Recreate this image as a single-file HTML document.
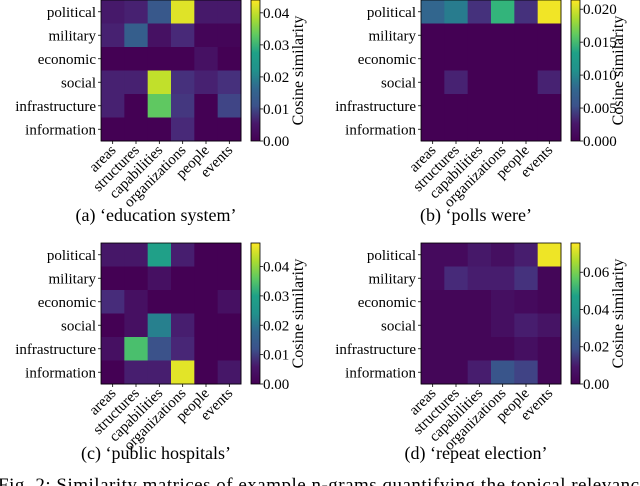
<!DOCTYPE html>
<html><head><meta charset="utf-8"><style>
html,body{margin:0;padding:0;background:#fff;}
svg{display:block;font-family:"Liberation Serif",serif;}
</style></head><body>
<svg id="fig" width="640" height="486" viewBox="0 0 640 486" xmlns="http://www.w3.org/2000/svg">
<defs>
<linearGradient id="vir" x1="0" y1="1" x2="0" y2="0">
<stop offset="0" stop-color="#440154"/><stop offset="0.125" stop-color="#48186a"/><stop offset="0.25" stop-color="#3b528b"/><stop offset="0.375" stop-color="#31688e"/><stop offset="0.5" stop-color="#21918c"/><stop offset="0.625" stop-color="#1fa187"/><stop offset="0.75" stop-color="#5ec962"/><stop offset="0.875" stop-color="#addc30"/><stop offset="1" stop-color="#fde725"/>
</linearGradient>
</defs>
</svg>
<script>
const rowLabels=["political","military","economic","social","infrastructure","information"];
const colLabels=["areas","structures","capabilities","organizations","people","events"];
const valuesA=[[.003,.004,.012,.042,.003,.003],[.004,.013,.002,.005,.0005,.0005],[0,0,0,0,.002,0],[.004,.004,.040,.006,.004,.006],[.004,0,.033,.007,0,.009],[0,0,0,.005,0,0]];
const valuesB=[[.007,.009,.003,.014,.003,.021],[0,0,0,0,0,0],[0,0,0,0,0,0],[0,.002,0,0,0,.002],[0,0,0,0,0,0],[0,0,0,0,0,0]];
const valuesC=[[.003,.003,.027,.004,0,0],[0,0,.002,0,0,0],[.006,.002,0,0,0,.002],[0,.002,.021,.004,0,0],[.002,.034,.012,.005,0,0],[0,.004,.004,.046,0,.003]];
const valuesD=[[.002,.002,.005,.003,.006,.074],[.002,.009,.006,.006,.011,.001],[.001,.001,.001,.003,.002,.001],[.001,.001,.001,.003,.006,.004],[.001,.001,.001,.001,.003,.001],[.001,.001,.006,.020,.015,.001]];
const maxA=0.044,maxB=0.0214,maxC=0.048,maxD=0.0757;
const ticksA=["0.00","0.01","0.02","0.03","0.04"];
const ticksB=["0.000","0.005","0.010","0.015","0.020"];
const ticksC=["0.00","0.01","0.02","0.03","0.04"];
const ticksD=["0.00","0.02","0.04","0.06"];
const captions=["(a) \u2018education system\u2019","(b) \u2018polls were\u2019","(c) \u2018public hospitals\u2019","(d) \u2018repeat election\u2019"];

const VIR=[[68,1,84],[72,40,120],[62,74,137],[49,104,142],[38,130,142],[31,158,137],[53,183,121],[109,205,89],[180,222,44],[253,231,37]];
function viridis(t){t=Math.max(0,Math.min(1,t));const p=t*(VIR.length-1),i=Math.min(Math.floor(p),VIR.length-2),f=p-i;
const c=VIR[i].map((v,k)=>Math.round(v+(VIR[i+1][k]-v)*f));return `rgb(${c[0]},${c[1]},${c[2]})`;}
const NS="http://www.w3.org/2000/svg";
const svg=document.getElementById("fig");
function el(tag,attrs,parent){const e=document.createElementNS(NS,tag);for(const k in attrs)e.setAttribute(k,attrs[k]);(parent||svg).appendChild(e);return e;}

function panel(ox,oy,vals,vmax,ticks,caption,capY,id){
  const g=el("g",{});
  
  
  const x0=ox+101,y0=oy,W=140,H=141,cw=W/6,ch=H/6;
  const xs=c=>x0+c*cw, ys=r=>y0+r*ch;
  vals.forEach((row,r)=>row.forEach((v,c)=>{
    const rc=el("rect",{x:xs(c),y:ys(r),width:cw+0.5,height:ch+0.5,fill:viridis(v/vmax)},g);
    
    
  }));
  el("rect",{x:x0,y:y0,width:W,height:H,fill:"none",stroke:"#000","stroke-width":0.8},g);
  rowLabels.forEach((l,r)=>{
    const yy=ys(r)+ch/2;
    el("line",{x1:x0-3,y1:yy,x2:x0,y2:yy,stroke:"#000","stroke-width":0.8},g);
    const t=el("text",{x:x0-5,y:yy+5,"font-size":15,"text-anchor":"end"},g);t.textContent=l;
    
    
  });
  colLabels.forEach((l,c)=>{
    const xx=xs(c)+cw/2;
    el("line",{x1:xx,y1:y0+H,x2:xx,y2:y0+H+3,stroke:"#000","stroke-width":0.8},g);
    const t=el("text",{x:xx+4,y:y0+H+10,"font-size":15,"text-anchor":"end",transform:`rotate(-45 ${xx+4} ${y0+H+10})`},g);t.textContent=l;
    
    
  });
  const cx=ox+251,cwid=9;
  const cb=el("rect",{x:cx,y:y0,width:cwid,height:H,fill:"url(#vir)",stroke:"#000","stroke-width":0.8},g);
  
  
  ticks.forEach(tk=>{
    const v=parseFloat(tk),yy=y0+H-(v/vmax)*H;
    el("line",{x1:cx+cwid,y1:yy,x2:cx+cwid+3,y2:yy,stroke:"#000","stroke-width":0.8},g);
    const t=el("text",{x:cx+cwid+3,y:yy+5,"font-size":15},g);t.textContent=tk;
    
    
  });
  const lx=ox+303,ly=y0+H/2;
  const lt=el("text",{x:lx,y:ly,"font-size":16,"text-anchor":"middle",transform:`rotate(-90 ${lx} ${ly})`},g);lt.textContent="Cosine similarity";
  
  
  const ct=el("text",{x:ox+156,y:capY,"font-size":18,"text-anchor":"middle"},g);ct.textContent=caption;
  
  
}
panel(0,0,valuesA,maxA,ticksA,captions[0],221,"a");
panel(320,0,valuesB,maxB,ticksB,captions[1],221,"b");
panel(0,243,valuesC,maxC,ticksC,captions[2],459,"c");
panel(320,243,valuesD,maxD,ticksD,captions[3],459,"d");
const fc=el("text",{x:-2,y:491,"font-size":19,textLength:650,lengthAdjust:"spacing"},svg);
fc.textContent="Fig. 2: Similarity matrices of example n-grams quantifying the topical relevance";


</script>
</body></html>
